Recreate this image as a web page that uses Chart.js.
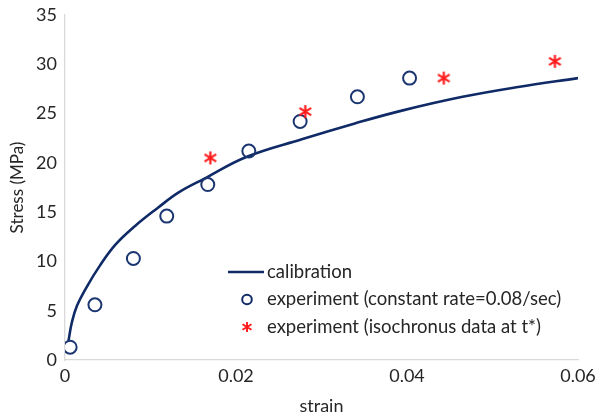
<!DOCTYPE html>
<html>
<head>
<meta charset="utf-8">
<script src="https://cdn.jsdelivr.net/npm/chart.js@4/dist/chart.umd.min.js"></script>
<style>
  html, body { margin: 0; padding: 0; background: #ffffff; }
  #wrap { width: 601px; height: 417px; }
</style>
</head>
<body>
<div id="wrap"><canvas id="chart"></canvas></div>
<script>
// calibration curve (strain, stress in MPa)
const CAL_STRAIN = [0.0004, 0.0008, 0.0014, 0.0026, 0.0041, 0.0059, 0.0082, 0.0108, 0.0133, 0.0163, 0.0212, 0.0277, 0.0339, 0.0394, 0.0465, 0.0530, 0.0600];
const CAL_STRESS = [1.9, 3.8, 5.5, 7.5, 9.6, 11.7, 13.6, 15.4, 17.0, 18.4, 20.6, 22.4, 24.0, 25.3, 26.7, 27.7, 28.6];

// constant rate test
const RATE_STRAIN = [0.0006, 0.0035, 0.0080, 0.0119, 0.0167, 0.0215, 0.0275, 0.0342, 0.0403];
const RATE_STRESS = [1.3, 5.6, 10.3, 14.6, 17.8, 21.2, 24.2, 26.7, 28.6];

// isochronous data at t*
const ISO_STRAIN = [0.0170, 0.0281, 0.0443, 0.0573];
const ISO_STRESS = [20.5, 25.2, 28.6, 30.3];

const X_TICKS = [0, 0.02, 0.04, 0.06];
const X_TICK_LABELS = ["0", "0.02", "0.04", "0.06"];
const Y_TICKS = [0, 5, 10, 15, 20, 25, 30, 35];

const LABELS = ["calibration", "experiment (constant rate=0.08/sec)", "experiment (isochronus data at t*)"];

const FONT = "Lato, 'Noto Sans', sans-serif";
const TEXT = "#262626";
const AXIS = "#d9d9d9";
const NAVY = "#0f2a66";
const RED = "#ff1a1a";

const pairs = (xs, ys) => xs.map((x, i) => ({ x, y: ys[i] }));

// six-armed asterisk marker (X plus a vertical bar)
function asterisk(size, width) {
  const c = document.createElement("canvas");
  c.width = size + 2;
  c.height = size + 2;
  const g = c.getContext("2d");
  const m = 1, s = size;
  g.strokeStyle = RED;
  g.lineWidth = width;
  g.lineCap = "butt";
  g.beginPath();
  g.moveTo(m + s * 0.05, m + s * 0.22); g.lineTo(m + s * 0.95, m + s * 0.78);
  g.moveTo(m + s * 0.95, m + s * 0.22); g.lineTo(m + s * 0.05, m + s * 0.78);
  g.moveTo(m + s / 2, m); g.lineTo(m + s / 2, m + s);
  g.stroke();
  return c;
}

const starMark = asterisk(13, 2.2);
const starLegend = asterisk(10, 1.9);

// legend drawn inside the plot area, lower right
const insideLegend = {
  id: "insideLegend",
  afterDraw(chart) {
    const { ctx, chartArea } = chart;
    const x0 = chartArea.left + 163;
    const y0 = chartArea.top + 257;
    const gap = 27.5;
    ctx.save();
    ctx.font = `18.5px ${FONT}`;
    ctx.fillStyle = TEXT;
    ctx.textBaseline = "middle";

    ctx.strokeStyle = NAVY;
    ctx.lineWidth = 2.5;
    ctx.beginPath();
    ctx.moveTo(x0, y0);
    ctx.lineTo(x0 + 36, y0);
    ctx.stroke();
    ctx.fillText(LABELS[0], x0 + 39, y0);

    ctx.strokeStyle = NAVY;
    ctx.lineWidth = 2;
    ctx.beginPath();
    ctx.arc(x0 + 19, y0 + gap, 4.8, 0, Math.PI * 2);
    ctx.stroke();
    ctx.fillText(LABELS[1], x0 + 39, y0 + gap);

    ctx.drawImage(starLegend, x0 + 19 - starLegend.width / 2, y0 + 2 * gap - starLegend.height / 2);
    ctx.fillText(LABELS[2], x0 + 39, y0 + 2 * gap);
    ctx.restore();
  }
};

new Chart(document.getElementById("chart"), {
  type: "scatter",
  data: {
    datasets: [
      {
        label: LABELS[0],
        data: pairs(CAL_STRAIN, CAL_STRESS),
        showLine: true,
        borderColor: NAVY,
        borderWidth: 2.6,
        pointRadius: 0,
        tension: 0.4,
        order: 2
      },
      {
        label: LABELS[1],
        data: pairs(RATE_STRAIN, RATE_STRESS),
        showLine: false,
        pointStyle: "circle",
        pointRadius: 6.5,
        pointBorderWidth: 2,
        pointBorderColor: "#1c3672",
        pointBackgroundColor: "rgba(255,255,255,0)",
        order: 1
      },
      {
        label: LABELS[2],
        data: pairs(ISO_STRAIN, ISO_STRESS),
        showLine: false,
        pointStyle: starMark,
        order: 0
      }
    ]
  },
  options: {
    responsive: true,
    maintainAspectRatio: false,
    animation: false,
    layout: { padding: { top: 15, right: 23, left: 0, bottom: 0 } },
    plugins: { legend: { display: false }, tooltip: { enabled: false } },
    scales: {
      x: {
        type: "linear",
        min: 0,
        max: 0.06,
        afterBuildTicks: (s) => { s.ticks = X_TICKS.map((value) => ({ value })); },
        afterFit: (s) => { s.height = 57; },
        grid: { drawOnChartArea: false, drawTicks: false },
        border: { display: true, color: AXIS, width: 1.3 },
        ticks: {
          padding: 5,
          color: TEXT,
          font: { family: FONT, size: 18 },
          maxRotation: 0,
          callback: (v, i) => X_TICK_LABELS[i]
        },
        title: {
          display: true,
          text: "strain",
          color: TEXT,
          font: { family: FONT, size: 18 },
          padding: { top: 5, bottom: 0 }
        }
      },
      y: {
        min: 0,
        max: 35,
        afterBuildTicks: (s) => { s.ticks = Y_TICKS.map((value) => ({ value })); },
        afterFit: (s) => { s.width = 65; s.paddingTop = 0; s.paddingBottom = 0; },
        grid: { drawOnChartArea: false, drawTicks: false },
        border: { display: true, color: AXIS, width: 1.3 },
        ticks: {
          padding: 8,
          color: TEXT,
          font: { family: FONT, size: 18 }
        },
        title: {
          display: true,
          text: "Stress (MPa)",
          color: TEXT,
          font: { family: FONT, size: 17 },
          padding: { top: 7, bottom: 4 }
        }
      }
    }
  },
  plugins: [insideLegend]
});
</script>
</body>
</html>
